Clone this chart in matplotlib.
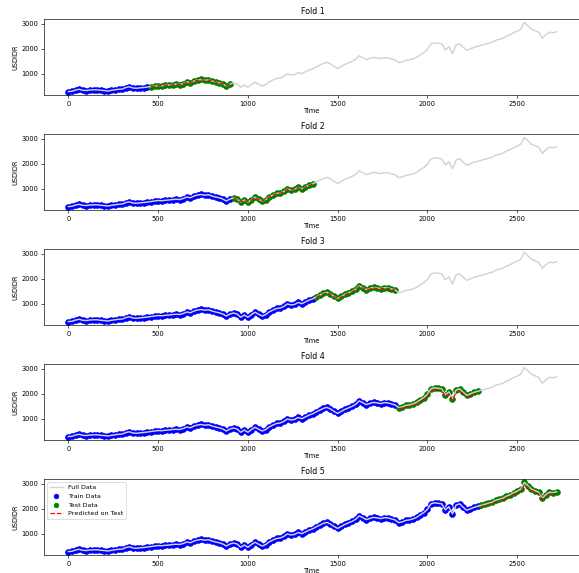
import numpy as np
import matplotlib
matplotlib.use("Agg")
import matplotlib.pyplot as plt

# USDIDR series, sampled every 20 steps
time = np.arange(0, 2740, 20)
usdidr = np.array([
    300, 310, 360, 390, 350, 340, 360, 370, 370, 350, 340, 320, 350, 370, 390, 400,
    460, 490, 440, 430, 450, 460, 480,
    500, 520, 540, 530, 550, 560, 580, 590, 580, 620, 680, 650, 720, 760, 780, 750,
    770, 720, 680, 650, 600, 520, 600,
    640, 600, 470, 560, 470, 580, 670, 590, 520, 580, 690, 760, 820, 840, 900, 1000,
    960, 980, 1060, 1010, 1080, 1150, 1200,
    1280, 1350, 1420, 1460, 1400, 1300, 1220, 1300, 1380, 1440, 1500, 1580, 1720,
    1650, 1570, 1620, 1660, 1640, 1610, 1650, 1640, 1600, 1560,
    1450, 1480, 1540, 1560, 1600, 1660, 1760, 1850, 1980, 2200, 2240, 2220, 2200,
    1960, 2080, 1800, 2150, 2200, 2060, 1940, 2000, 2060, 2100,
    2140, 2180, 2220, 2260, 2340, 2380, 2420, 2500, 2560, 2640, 2700, 2780, 3050,
    2920, 2780, 2720, 2660, 2420, 2560, 2660, 2640, 2680,
])

train_end = [460, 916, 1372, 1828, 2284]
test_size = 456

pred_fold1 = [495, 515, 535, 530, 545, 555, 575, 585, 580, 610, 670, 650, 710, 750,
              770, 750, 760, 720, 685, 650, 605, 530, 590]
pred_fold2 = [630, 600, 480, 550, 480, 570, 660, 590, 525, 575, 680, 750, 810, 835,
              890, 985, 960, 975, 1050, 1010, 1070, 1140, 1190]
pred_fold3 = [1260, 1330, 1400, 1440, 1390, 1300, 1220, 1280, 1360, 1420, 1480, 1560,
              1690, 1640, 1560, 1600, 1640, 1620, 1600, 1630, 1620, 1585, 1550]
pred_fold4 = [1420, 1430, 1480, 1500, 1540, 1600, 1690, 1780, 1900, 2110, 2170, 2160,
              2140, 1900, 2000, 1750, 2060, 2130, 2000, 1880, 1930, 1990, 2030]
pred_fold5 = [2090, 2130, 2170, 2210, 2280, 2330, 2370, 2440, 2500, 2580, 2640, 2720,
              2940, 2870, 2730, 2670, 2600, 2380, 2490, 2600, 2590, 2630]
predictions = [pred_fold1, pred_fold2, pred_fold3, pred_fold4, pred_fold5]

plt.rcParams.update({
    "xtick.labelsize": 8.3,
    "ytick.labelsize": 8.3,
    "axes.labelsize": 8.3,
    "axes.titlesize": 9.8,
    "legend.fontsize": 8,
})

W, H = 579, 573
fig = plt.figure(figsize=(W / 57.9, H / 57.9), dpi=57.9)

for k in range(5):
    top = 19 + 115 * k
    ax = fig.add_axes([44 / W, 1 - (top + 76) / H, 537 / W, 76 / H])

    train = time < train_end[k]
    test = (time >= train_end[k]) & (time < train_end[k] + test_size)

    ax.plot(time, usdidr, color="lightgray", lw=1.8, label="Full Data")
    ax.scatter(time[train], usdidr[train], color="blue", s=50, label="Train Data")
    ax.scatter(time[test], usdidr[test], color="green", s=50, label="Test Data")
    ax.plot(time[test], predictions[k], "r--", lw=1.5, label="Predicted on Test")

    ax.set_title(f"Fold {k + 1}")
    ax.set_xlabel("Time", labelpad=2)
    ax.set_ylabel("USDIDR")
    if k == 4:
        ax.legend(loc="upper left", markerscale=0.8)

fig.savefig("out.png", dpi=57.9)
